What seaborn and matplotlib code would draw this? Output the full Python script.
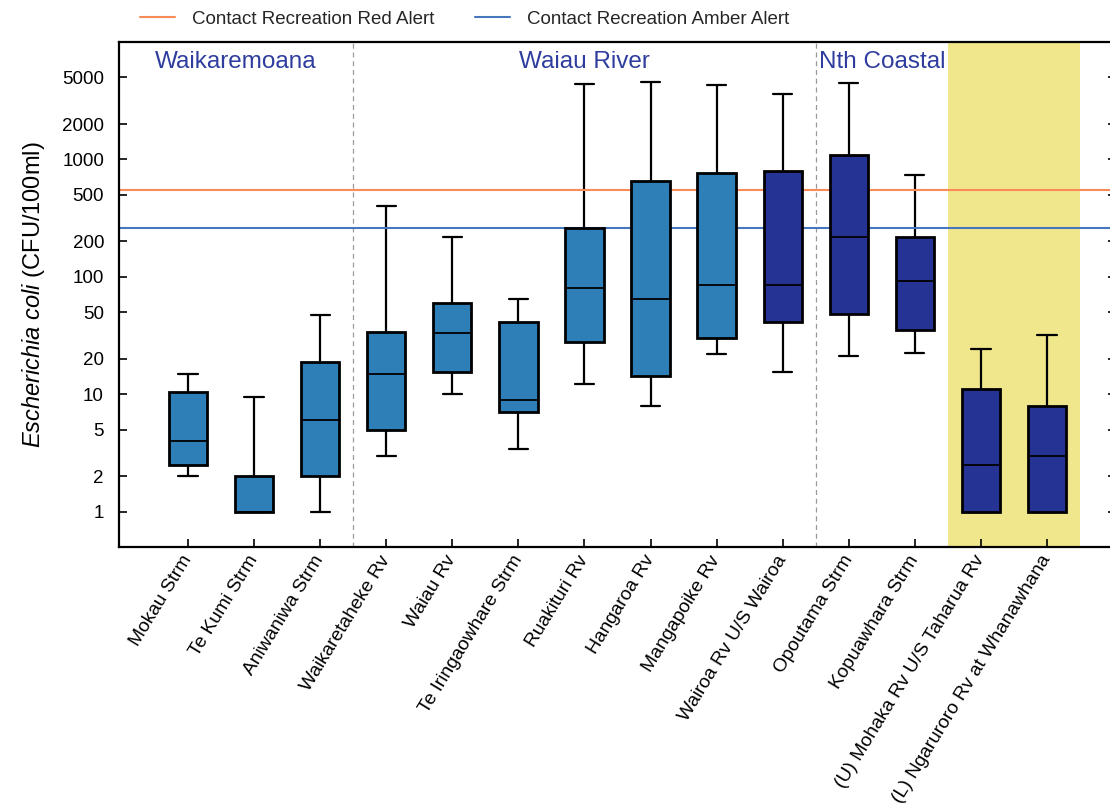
import numpy as np
import pandas as pd
import matplotlib
matplotlib.use("Agg")
import matplotlib.pyplot as plt
from matplotlib.ticker import FixedLocator, FixedFormatter
from matplotlib.lines import Line2D
import seaborn as sns

# Monitoring sites (x-axis order)
sites = [
    "Mokau Strm", "Te Kumi Strm", "Aniwaniwa Strm", "Waikaretaheke Rv",
    "Waiau Rv", "Te Iringaowhare Strm", "Ruakituri Rv", "Hangaroa Rv",
    "Mangapoike Rv", "Wairoa Rv U/S Wairoa", "Opoutama Strm",
    "Kopuawhara Strm", "(U) Mohaka Rv U/S Taharua Rv",
    "(L) Ngaruroro Rv at Whanawhana",
]

# Five-number summaries of E. coli (CFU/100ml) per site
e_min = [2.0, 1.0, 1.0, 3.0, 10.0, 3.4, 12.3, 8.0, 22.0, 15.5, 21.0, 22.6, 1.0, 1.0]
e_q1 = [2.5, 1.0, 2.0, 5.0, 15.5, 7.0, 28.0, 14.3, 30.0, 41.0, 48.0, 35.0, 1.0, 1.0]
e_med = [4.0, 1.0, 6.0, 15.0, 33.0, 9.0, 80.0, 65.0, 85.0, 85.0, 220.0, 92.0, 2.5, 3.0]
e_q3 = [10.4, 2.0, 19.0, 34.0, 60.0, 41.0, 260.0, 650.0, 770.0, 790.0, 1100.0, 220.0, 11.0, 8.0]
e_max = [15.0, 9.5, 47.0, 400.0, 220.0, 65.0, 4350.0, 4600.0, 4300.0, 3600.0, 4450.0, 740.0, 24.5, 32.0]

# Catchment groups: (label, first index, last index)
groups = [("Waikaremoana", 0, 2), ("Waiau River", 3, 9), ("Nth Coastal", 10, 11)]

# Contact recreation guideline levels
red_alert = 550
amber_alert = 260

y_ticks = [1, 2, 5, 10, 20, 50, 100, 200, 500, 1000, 2000, 5000]

light_blue = "#2E7EB8"
dark_blue = "#253494"
site_colors = [light_blue] * 9 + [dark_blue] * 5

records = []
for i, s in enumerate(sites):
    for v in (e_min[i], e_q1[i], e_med[i], e_q3[i], e_max[i]):
        records.append({"site": s, "ecoli": v})
df = pd.DataFrame(records)

sns.set_theme(style="white")
plt.rcParams["font.family"] = ["Liberation Sans", "DejaVu Sans"]
plt.rcParams["mathtext.fontset"] = "custom"
plt.rcParams["mathtext.it"] = "Liberation Sans:italic"
plt.rcParams["mathtext.rm"] = "Liberation Sans"

W, H = 1110, 809
fig = plt.figure(figsize=(W / 100, H / 100), dpi=100)
ax = fig.add_axes([119 / W, (H - 547) / H, (1116 - 119) / W, (547 - 42) / H])

# Highlighted sites
ax.axvspan(11.5, 13.5, color="#F0E68C", zorder=0, lw=0)

sns.boxplot(
    data=df, x="site", y="ecoli", hue="site", order=sites, hue_order=sites,
    palette=site_colors, saturation=1, width=0.58, whis=(0, 100),
    dodge=False, legend=False, log_scale=True, linecolor="black",
    linewidth=1.6, fliersize=0, ax=ax,
    boxprops={"linewidth": 2.0, "edgecolor": "black", "zorder": 3},
    medianprops={"linewidth": 1.3, "color": "black", "zorder": 4},
    whiskerprops={"linewidth": 1.6, "color": "black", "zorder": 2},
    capprops={"linewidth": 1.6, "color": "black", "zorder": 2},
)

# Group separators
for _, first, last in groups[:-1]:
    ax.axvline(last + 0.5, color="#9A9A9A", lw=0.9, ls=(0, (4, 3)), zorder=1)

# Guideline levels
ax.axhline(red_alert, color="#F88B57", lw=1.5, zorder=2.5)
ax.axhline(amber_alert, color="#4677BD", lw=1.5, zorder=2.5)

ax.set_xlim(-1.044, 14.044)
ax.set_ylim(0.5, 10000)

ax.yaxis.set_major_locator(FixedLocator(y_ticks))
ax.yaxis.set_major_formatter(FixedFormatter([str(t) for t in y_ticks]))
ax.yaxis.set_minor_locator(FixedLocator([]))
ax.tick_params(axis="y", which="major", direction="in", length=6, width=1.2,
               left=True, right=True, labelright=False, labelsize=13.5,
               pad=10.8, colors="black")
ax.tick_params(axis="x", which="major", direction="in", length=5.5, width=1.2,
               bottom=True, labelsize=13.8, pad=7, colors="black")

ax.set_xticks(range(len(sites)))
ax.set_xticklabels(sites, rotation=58.5, ha="right", va="center",
                   rotation_mode="anchor")

for sp in ax.spines.values():
    sp.set_color("black")
    sp.set_linewidth(1.6)

ax.set_xlabel("")
ax.set_ylabel(r"$\it{Escherichia\ coli}$ (CFU/100ml)", fontsize=17,
              color="black")
ax.yaxis.set_label_coords(-72 / 997, 0.5)

# Group titles
for label, first, last in groups:
    lo = first - 0.5 if first > 0 else -1.044
    hi = last + 0.5
    ax.text((lo + hi) / 2, 0.96, label, transform=ax.get_xaxis_transform(),
            ha="center", va="center", fontsize=17.5, color="#2E3D9E")

handles = [
    Line2D([], [], color="#F88B57", lw=1.5),
    Line2D([], [], color="#4677BD", lw=1.5),
]
fig.legend(handles, ["Contact Recreation Red Alert", "Contact Recreation Amber Alert"],
           loc="center left", bbox_to_anchor=(140 / W, 1 - 19 / H),
           ncol=2, frameon=False, fontsize=13.5, handlelength=1.87,
           handletextpad=0.9, columnspacing=2.19, borderpad=0, borderaxespad=0)

fig.savefig("out.png", dpi=100)
